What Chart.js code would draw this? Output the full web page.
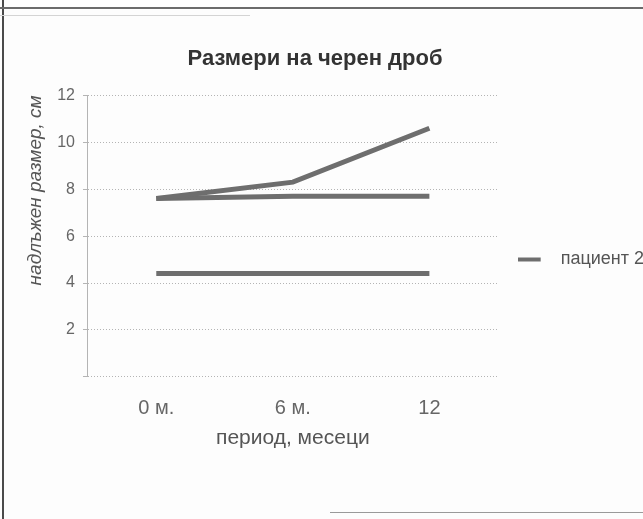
<!DOCTYPE html>
<html lang="bg">
<head>
<meta charset="utf-8">
<script src="https://cdn.jsdelivr.net/npm/chart.js@4.4.1/dist/chart.umd.min.js"></script>
<style>
  html, body { margin: 0; padding: 0; background: #fdfdfd; overflow: hidden; }
  #view { position: relative; width: 643px; height: 519px; overflow: hidden; }
  #wrap { position: absolute; left: 0; top: 0; width: 654px; height: 519px; }
  .edge { position: absolute; pointer-events: none; }
</style>
</head>
<body>
<div id="view">
  <div id="wrap"><canvas id="liver"></canvas></div>
  <div class="edge" style="left:2px;top:0;width:2px;height:519px;background:#4a4a4a;"></div>
  <div class="edge" style="left:0;top:7px;width:643px;height:2px;background:#6a6a6a;"></div>
  <div class="edge" style="left:0;top:15px;width:250px;height:1px;background:#d4d4d4;"></div>
  <div class="edge" style="left:330px;top:512px;width:313px;height:1px;background:#9a9a9a;"></div>
</div>
<script>
// Liver size over the follow-up period
const periods = ['0 м.', '6 м.', '12'];
const patient1 = [7.6, 8.3, 10.6];
const patient2 = [7.6, 7.7, 7.7];
const patient3 = [4.4, 4.4, 4.4];
const shownInLegend = ['пациент 2'];

const lineGray = '#6e6e6e';
const gridGray = '#b4b4b4';
const fontFamily = '"Liberation Sans", Arial, sans-serif';

// Legend sample: a short thick stroke followed by empty space
const sample = document.createElement('canvas');
sample.width = 34;
sample.height = 6;
const sctx = sample.getContext('2d');
sctx.fillStyle = lineGray;
sctx.fillRect(0, 1, 23, 4);

// Nudges the title left and the legend a little below the plot middle
const blockShift = {
  id: 'blockShift',
  afterLayout(chart) {
    const lg = chart.legend;
    if (lg) { lg.top += 18; lg.bottom += 18; }
    const tb = chart.titleBlock;
    if (tb) { tb.left -= 20; tb.right -= 20; }
  }
};

function series(label, data) {
  return {
    label, data,
    borderColor: lineGray,
    backgroundColor: lineGray,
    borderWidth: 5,
    pointRadius: 0,
    tension: 0,
    fill: false
  };
}

new Chart(document.getElementById('liver'), {
  type: 'line',
  data: {
    labels: periods,
    datasets: [
      series('пациент 1', patient1),
      series('пациент 2', patient2),
      series('пациент 3', patient3)
    ]
  },
  options: {
    responsive: true,
    maintainAspectRatio: false,
    animation: false,
    layout: { padding: { top: 30, left: 16, right: 0, bottom: 66 } },
    plugins: {
      title: {
        display: true,
        text: 'Размери на черен дроб',
        color: '#333',
        font: { family: fontFamily, size: 22, weight: 'bold' },
        padding: { top: 16, bottom: 23 }
      },
      legend: {
        position: 'right',
        labels: {
          filter: item => shownInLegend.includes(item.text),
          usePointStyle: true,
          pointStyle: sample,
          pointStyleWidth: 34,
          padding: 20,
          color: '#555',
          font: { family: fontFamily, size: 18 }
        }
      },
      tooltip: { enabled: false }
    },
    scales: {
      x: {
        offset: true,
        grid: { display: false, drawTicks: true, tickLength: 20 },
        border: { display: false },
        ticks: {
          color: '#666',
          padding: 0,
          font: { family: fontFamily, size: 20 }
        },
        title: {
          display: true,
          text: 'период, месеци',
          color: '#555',
          font: { family: fontFamily, size: 21 },
          padding: { top: 5, bottom: 2 }
        }
      },
      y: {
        min: 0,
        max: 12,
        grid: {
          color: gridGray,
          lineWidth: 1,
          drawTicks: true,
          tickLength: 5
        },
        border: { display: true, color: gridGray, dash: [1, 2] },
        ticks: {
          stepSize: 2,
          color: '#666',
          padding: 8,
          font: { family: fontFamily, size: 16 },
          callback: v => (v === 0 ? '' : v)
        },
        title: {
          display: true,
          text: 'надлъжен размер, см',
          align: 'end',
          color: '#555',
          font: { family: fontFamily, size: 19, style: 'italic' },
          padding: { top: 8.6, bottom: 1.8 }
        }
      }
    }
  },
  plugins: [blockShift]
});
</script>
</body>
</html>
